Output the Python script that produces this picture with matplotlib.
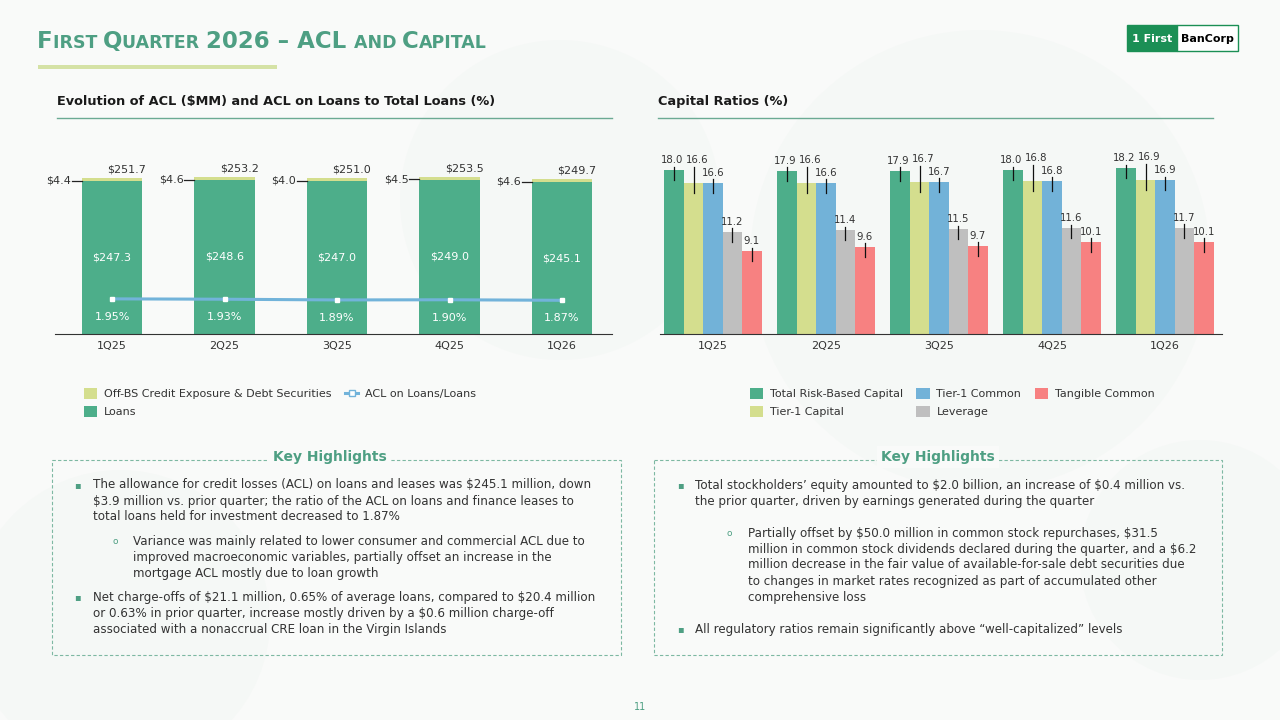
import matplotlib
matplotlib.use("Agg")
import matplotlib.pyplot as plt
import numpy as np
from matplotlib.patches import Rectangle, Patch
from matplotlib.lines import Line2D
from matplotlib.offsetbox import TextArea, HPacker, AnchoredOffsetbox

plt.rcParams['font.family'] = ['DejaVu Sans']
plt.rcParams['text.parse_math'] = False

# ---------------- data ----------------
quarters = ['1Q25', '2Q25', '3Q25', '4Q25', '1Q26']
loans_acl = [247.3, 248.6, 247.0, 249.0, 245.1]
offbs_acl = [4.4, 4.6, 4.0, 4.5, 4.6]
acl_ratio = [1.95, 1.93, 1.89, 1.90, 1.87]

trbc = [18.0, 17.9, 17.9, 18.0, 18.2]
tier1_capital = [16.6, 16.6, 16.7, 16.8, 16.9]
tier1_common = [16.6, 16.6, 16.7, 16.8, 16.9]
leverage = [11.2, 11.4, 11.5, 11.6, 11.7]
tangible = [9.1, 9.6, 9.7, 10.1, 10.1]
capital_names = ['Total Risk-Based Capital', 'Tier-1 Capital', 'Tier-1 Common',
                 'Leverage', 'Tangible Common']

# ---------------- style ----------------
BG = '#F9FAF9'
TEAL = '#4E9F83'
C_LOANS = '#4DAE8A'
C_OFFBS = '#D4DE8E'
C_LINE = '#72B3DA'
CAP_COLORS = ['#4DAE8A', '#D4DE8E', '#72B2D8', '#BFBFBF', '#F78181']
TXT = '#333333'

W, H = 1280, 720
fig = plt.figure(figsize=(12.8, 7.2), dpi=100, facecolor=BG)

bg = fig.add_axes([0, 0, 1, 1], zorder=0)
bg.set_xlim(0, W)
bg.set_ylim(H, 0)
bg.axis('off')
bg.set_facecolor(BG)

# faint decorative circles
for (cx, cy, r) in [(980, 260, 230), (120, 620, 150), (1200, 560, 120), (560, 200, 160)]:
    bg.add_patch(plt.Circle((cx, cy), r, facecolor='#E8F1EC', edgecolor='none', alpha=0.22, zorder=0))

# ---- main title (small caps) ----
pieces = [("F", 16.5), ("IRST ", 12.5), ("Q", 16.5), ("UARTER ", 12.5), ("2026 \u2013 ACL ", 16.5),
          ("AND ", 12.5), ("C", 16.5), ("APITAL", 12.5)]
areas = [TextArea(t, textprops=dict(fontsize=s, fontweight='bold', color=TEAL)) for t, s in pieces]
pack = HPacker(children=areas, align='baseline', pad=0, sep=0)
ab = AnchoredOffsetbox(loc='lower left', child=pack, bbox_to_anchor=(37, 53),
                       bbox_transform=bg.transData, frameon=False, pad=0, borderpad=0)
bg.add_artist(ab)
bg.add_patch(Rectangle((38, 65), 239, 4, facecolor='#D5E2A6', edgecolor='none'))

# ---- logo ----
bg.add_patch(Rectangle((1127, 25), 50, 26, facecolor='#1B8F55', edgecolor='#1B8F55', lw=1))
bg.add_patch(Rectangle((1177, 25), 61, 26, facecolor='white', edgecolor='#1B8F55', lw=1))
bg.text(1152, 38.5, '1 First', color='white', fontsize=8, fontweight='bold', ha='center', va='center')
bg.text(1207.5, 38.5, 'BanCorp', color='black', fontsize=8, fontweight='bold', ha='center', va='center')

# ---- section titles ----
bg.text(57, 101, 'Evolution of ACL ($MM) and ACL on Loans to Total Loans (%)', fontsize=9.3,
        fontweight='bold', color='#1a1a1a', va='center', ha='left')
bg.plot([57, 612], [118, 118], color='#6BAA93', lw=1)
bg.text(658, 101, 'Capital Ratios (%)', fontsize=9.3, fontweight='bold', color='#1a1a1a',
        va='center', ha='left')
bg.plot([658, 1213], [118, 118], color='#6BAA93', lw=1)

# ---------------- left chart ----------------
def fig_rect(x0, y0, x1, y1):
    return [x0 / W, 1 - y1 / H, (x1 - x0) / W, (y1 - y0) / H]

ax1 = fig.add_axes(fig_rect(55, 152, 612, 334), zorder=2)
ax1.patch.set_alpha(0)
x = np.arange(len(quarters))
bw = 0.54
ax1.bar(x, loans_acl, bw, color=C_LOANS, label='Loans', zorder=2)
ax1.bar(x, offbs_acl, bw, bottom=loans_acl, color=C_OFFBS,
        label='Off-BS Credit Exposure & Debt Securities', zorder=2)
ax1.set_xlim(-0.507, 4.444)
ax1.set_ylim(0, 293.6)
for s in ['top', 'right', 'left']:
    ax1.spines[s].set_visible(False)
ax1.spines['bottom'].set_color('#333333')
ax1.set_yticks([])
ax1.set_xticks(x)
ax1.set_xticklabels(quarters, fontsize=8, color=TXT)
ax1.tick_params(axis='x', length=0, pad=5)

for i in range(len(quarters)):
    total = loans_acl[i] + offbs_acl[i]
    ax1.text(i + 0.13, total + 6, f'${total:.1f}', ha='center', va='bottom', fontsize=8, color=TXT)
    ax1.text(i, loans_acl[i] / 2, f'${loans_acl[i]:.1f}', ha='center', va='center',
             fontsize=8, color='white')
    yl = loans_acl[i] + offbs_acl[i] / 2 - 2
    ax1.plot([i - bw / 2 - 0.09, i - bw / 2], [yl, yl], color='#222222', lw=0.9, zorder=3)
    ax1.text(i - bw / 2 - 0.095, yl, f'${offbs_acl[i]:.1f}', ha='right', va='center',
             fontsize=8, color=TXT)

ax1b = ax1.twinx()
ax1b.set_ylim(0, 10.1)
ax1b.axis('off')
ax1b.plot(x, acl_ratio, color=C_LINE, lw=2.2, marker='s', ms=3.2, mfc='white', mec='white',
          label='ACL on Loans/Loans', zorder=4)
for i, v in enumerate(acl_ratio):
    ax1b.annotate(f'{v:.2f}%', (i, v), xytext=(0, -13), textcoords='offset points',
                  ha='center', va='center', fontsize=8, color='white')

h_off = Patch(facecolor=C_OFFBS, label='Off-BS Credit Exposure & Debt Securities')
h_loans = Patch(facecolor=C_LOANS, label='Loans')
h_line = Line2D([0], [0], color=C_LINE, lw=2.2, marker='s', ms=4, mfc='white', mec=C_LINE,
                label='ACL on Loans/Loans')
leg1 = fig.legend(handles=[h_off, h_loans, h_line], ncol=2, loc='upper left',
                  bbox_to_anchor=(84 / W, 1 - 388 / H), frameon=False, fontsize=8,
                  handlelength=1.2, handleheight=1.1, handletextpad=0.6, columnspacing=1.2,
                  labelspacing=0.62, borderaxespad=0, borderpad=0)
for t in leg1.get_texts():
    t.set_color(TXT)

# ---------------- right chart ----------------
ax2 = fig.add_axes(fig_rect(660, 152, 1222, 334), zorder=2)
ax2.patch.set_alpha(0)
series = [trbc, tier1_capital, tier1_common, leverage, tangible]
cbw = 0.172
label_gap = [1.1, 2.5, 1.1, 1.1, 1.1]
label_dx = [-0.015, 0.035, 0.0, 0.0, 0.0]
for k, vals in enumerate(series):
    xs = x + (k - 2) * cbw
    ax2.bar(xs, vals, cbw, color=CAP_COLORS[k], label=capital_names[k], zorder=2)
    for i, v in enumerate(vals):
        ly = v + label_gap[k]
        ax2.text(xs[i] + label_dx[k], ly, f'{v:.1f}', ha='center', va='center', fontsize=7.3,
                 color=TXT, zorder=4)
        ax2.plot([xs[i], xs[i]], [ly - 0.7, v - 1.1], color='#111111', lw=0.9, zorder=3)
ax2.set_xlim(-0.469, 4.504)
ax2.set_ylim(0, 20)
for s in ['top', 'right', 'left']:
    ax2.spines[s].set_visible(False)
ax2.spines['bottom'].set_color('#333333')
ax2.set_yticks([])
ax2.set_xticks(x)
ax2.set_xticklabels(quarters, fontsize=8, color=TXT)
ax2.tick_params(axis='x', length=0, pad=5)

hs = [Patch(facecolor=CAP_COLORS[k], label=capital_names[k]) for k in range(5)]
leg2 = fig.legend(handles=hs, ncol=3, loc='upper left', bbox_to_anchor=(750 / W, 1 - 388 / H),
                  frameon=False, fontsize=8, handlelength=1.2, handleheight=1.1,
                  handletextpad=0.6, columnspacing=1.2, labelspacing=0.62,
                  borderaxespad=0, borderpad=0)
for t in leg2.get_texts():
    t.set_color(TXT)

# ---------------- highlight boxes ----------------
BOX_C = '#7DB8A2'
for (x0, x1, cx) in [(52, 621, 330), (654, 1222, 938)]:
    bg.add_patch(Rectangle((x0, 460), x1 - x0, 195, facecolor='none', edgecolor=BOX_C,
                           lw=0.8, ls=(0, (3, 2))))
    bg.text(cx, 457, 'Key Highlights', ha='center', va='center', fontsize=10, fontweight='bold',
            color=TEAL, bbox=dict(facecolor=BG, edgecolor='none', pad=3))

FS = 8.6
def bullet(xb, xt, ys, lines, sub=False):
    if sub:
        bg.text(xb, ys[0], 'o', fontsize=6.5, color=TEAL, ha='center', va='center')
    else:
        bg.text(xb, ys[0], '\u25aa', fontsize=7, color=TEAL, ha='center', va='center')
    for y, ln in zip(ys, lines):
        bg.text(xt, y, ln, fontsize=FS, color=TXT, ha='left', va='center')

bullet(77, 93, [485, 501, 517], [
    'The allowance for credit losses (ACL) on loans and leases was $245.1 million, down',
    '$3.9 million vs. prior quarter; the ratio of the ACL on loans and finance leases to',
    'total loans held for investment decreased to 1.87%'])
bullet(115, 133, [541, 557, 573], [
    'Variance was mainly related to lower consumer and commercial ACL due to',
    'improved macroeconomic variables, partially offset an increase in the',
    'mortgage ACL mostly due to loan growth'], sub=True)
bullet(77, 93, [597, 613, 629], [
    'Net charge-offs of $21.1 million, 0.65% of average loans, compared to $20.4 million',
    'or 0.63% in prior quarter, increase mostly driven by a $0.6 million charge-off',
    'associated with a nonaccrual CRE loan in the Virgin Islands'])

bullet(680, 695, [485, 501], [
    'Total stockholders\u2019 equity amounted to $2.0 billion, an increase of $0.4 million vs.',
    'the prior quarter, driven by earnings generated during the quarter'])
bullet(729, 748, [533, 549, 565, 581, 597], [
    'Partially offset by $50.0 million in common stock repurchases, $31.5',
    'million in common stock dividends declared during the quarter, and a $6.2',
    'million decrease in the fair value of available-for-sale debt securities due',
    'to changes in market rates recognized as part of accumulated other',
    'comprehensive loss'], sub=True)
bullet(680, 695, [629], [
    'All regulatory ratios remain significantly above \u201cwell-capitalized\u201d levels'])

bg.text(640, 707, '11', fontsize=7, color=TEAL, ha='center', va='center')

fig.savefig('out.png', dpi=100, facecolor=BG)
